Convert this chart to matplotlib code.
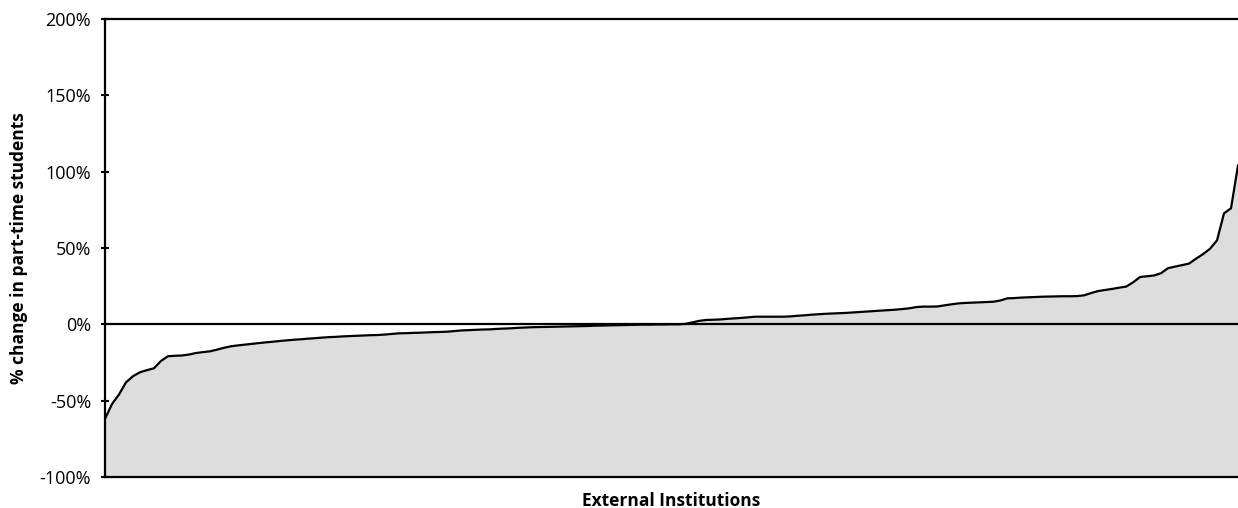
import numpy as np
import matplotlib
matplotlib.use("Agg")
import matplotlib.pyplot as plt
from matplotlib.ticker import FuncFormatter

# % change in part-time students per external institution, sorted ascending
pct_change = [
    -62.0, -52.2, -46.0, -38.0, -34.0, -31.4, -30.0, -28.8, -24.0, -20.9,
    -20.6, -20.4, -19.8, -18.8, -18.2, -17.7, -16.6, -15.4, -14.4, -13.8,
    -13.3, -12.8, -12.3, -11.8, -11.4, -10.9, -10.5, -10.1, -9.8, -9.4,
    -9.1, -8.7, -8.4, -8.2, -7.9, -7.7, -7.5, -7.3, -7.1, -7.0,
    -6.7, -6.3, -5.9, -5.8, -5.6, -5.5, -5.3, -5.1, -5.0, -4.8,
    -4.4, -4.0, -3.8, -3.6, -3.4, -3.3, -3.0, -2.8, -2.6, -2.3,
    -2.1, -1.9, -1.8, -1.7, -1.6, -1.5, -1.4, -1.3, -1.2, -1.1,
    -0.9, -0.8, -0.7, -0.6, -0.5, -0.4, -0.3, -0.2, -0.2, -0.1,
    -0.1, 0.0, 0.0, 0.3, 1.3, 2.3, 2.9, 3.0, 3.2, 3.6,
    3.9, 4.2, 4.6, 5.0, 5.0, 5.0, 5.0, 5.0, 5.2, 5.6,
    5.9, 6.3, 6.6, 6.9, 7.1, 7.3, 7.5, 7.8, 8.1, 8.4,
    8.7, 9.0, 9.3, 9.6, 10.0, 10.5, 11.3, 11.6, 11.6, 11.7,
    12.4, 13.1, 13.7, 14.0, 14.2, 14.4, 14.6, 14.8, 15.6, 17.0,
    17.2, 17.5, 17.7, 17.9, 18.1, 18.2, 18.3, 18.4, 18.4, 18.5,
    19.0, 20.5, 21.8, 22.5, 23.2, 24.0, 24.7, 27.5, 31.0, 31.5,
    32.0, 33.5, 36.8, 37.8, 38.8, 39.8, 43.0, 46.0, 49.5, 55.0,
    72.7, 76.0, 104.0,
]
y_ticks = [-100, -50, 0, 50, 100, 150, 200]

plt.rcParams['font.family'] = ['Open Sans', 'DejaVu Sans']

x = np.arange(len(pct_change))
y = np.array(pct_change)

fig = plt.figure(figsize=(12.38, 5.08), dpi=100)
ax = fig.add_axes([105 / 1238, 31 / 508, 1133 / 1238, 458 / 508])

ax.fill_between(x, y, -100, color="#dddddd", lw=0, zorder=1)
ax.plot(x, y, color="black", lw=1.6, zorder=3)
ax.axhline(0, color="black", lw=1.6, zorder=2)

ax.set_xlim(0, len(pct_change) - 1)
ax.set_ylim(-100, 200)
ax.set_yticks(y_ticks)
ax.yaxis.set_major_formatter(FuncFormatter(lambda v, p: f"{v:.0f}%"))
ax.set_xticks([])
ax.tick_params(axis="y", direction="inout", length=6, width=1.5, pad=7, labelsize=13)

for s in ["left", "top", "bottom"]:
    ax.spines[s].set_linewidth(1.6)
ax.spines["right"].set_visible(False)

ax.set_ylabel("% change in part-time students", fontsize=12.5, fontweight="bold", labelpad=8)
ax.set_xlabel("External Institutions", fontsize=12.5, fontweight="bold", labelpad=11)

fig.savefig("out.png", dpi=100)
